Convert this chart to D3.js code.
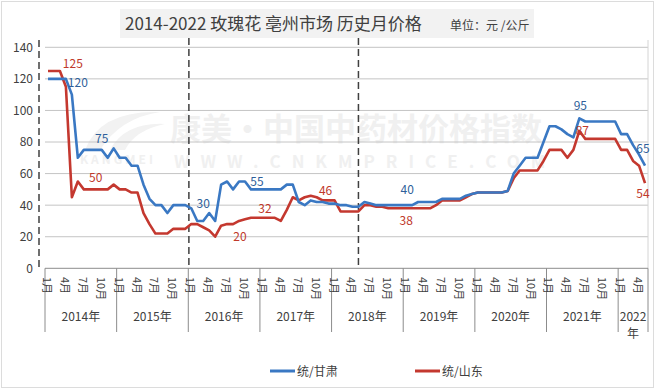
<!DOCTYPE html>
<html>
<head>
<meta charset="utf-8">
<script src="https://cdn.jsdelivr.net/npm/d3@7"></script>
<style>
  body { margin: 0; background: #fff; }
  text { font-family: "Noto Sans CJK SC", "Noto Sans", sans-serif; }
</style>
</head>
<body>
<svg width="656" height="391"></svg>
<script>
// years on the x axis (2022 only has Jan-May)
var years = ['2014', '2015', '2016', '2017', '2018', '2019', '2020', '2021', '2022'];
var yTicks = [0, 20, 40, 60, 80, 100, 120, 140];

// monthly price, 统/甘肃
var gansu = [
    120, 120, 120, 120, 110, 70, 75, 75, 75, 75, 70, 76,
    70, 70, 65, 65, 53, 44, 40, 40, 35, 40, 40, 40,
    38, 30, 30, 35, 30, 53, 55, 50, 55, 55, 50, 50,
    50, 50, 50, 50, 53, 53, 42, 40, 43, 42, 42, 41,
    41, 40, 40, 39, 39, 42, 41, 40, 40, 40, 40, 40,
    40, 40, 42, 42, 42, 42, 44, 44, 44, 44, 46, 47,
    48, 48, 48, 48, 48, 49, 60, 65, 70, 70, 70, 80,
    90, 90, 88, 85, 83, 95, 93, 93, 93, 93, 93, 93,
    85, 85, 78, 72, 65
];
// monthly price, 统/山东
var shandong = [
    125, 125, 125, 115, 45, 55, 50, 50, 50, 50, 50, 53,
    50, 50, 48, 48, 35, 28, 22, 22, 22, 25, 25, 25,
    28, 28, 26, 24, 20, 27, 28, 28, 30, 31, 32, 32,
    32, 32, 32, 30, 37, 45, 43, 45, 46, 45, 43, 43,
    43, 36, 36, 36, 36, 40, 40, 39, 39, 38, 38, 38,
    38, 38, 38, 38, 38, 40, 43, 43, 43, 43, 45, 47,
    48, 48, 48, 48, 48, 49, 57, 62, 62, 62, 62, 68,
    75, 75, 75, 70, 75, 87, 82, 82, 82, 82, 82, 82,
    75, 75, 68, 65, 54
];

// data labels (month index + value shown)
var gansuLabels = [[5, 120], [9, 75], [26, 30], [35, 55], [60, 40], [89, 95], [100, 65]];
var shandongLabels = [[4, 125], [8, 50], [36, 32], [32, 20], [46, 46], [60, 38], [89, 87], [100, 54]];
// dashed marker lines (month position)
var markers = [24.1, 52.5];

var nMonths = gansu.length;
var blue = '#3a78c3', red = '#c4382f';

var svg = d3.select('svg');

var x = d3.scaleLinear().domain([0, 101]).range([45, 648]);
var y = d3.scaleLinear().domain([0, 140]).range([268.3, 47.3]);
function xc(i) { return x(i + 0.5); }

// outer frame
svg.append('rect')
    .attr('x', 1.5).attr('y', 1.5)
    .attr('width', 652).attr('height', 386)
    .attr('fill', 'none')
    .attr('stroke', '#dcdcdc');

// title
svg.append('rect')
    .attr('x', 120).attr('y', 9)
    .attr('width', 414).attr('height', 29)
    .attr('fill', '#f2f2f2');
svg.append('text')
    .attr('x', 125).attr('y', 30)
    .attr('font-size', 17)
    .attr('fill', '#404040')
    .text('2014-2022 玫瑰花 亳州市场 历史月价格');
svg.append('text')
    .attr('x', 450).attr('y', 30)
    .attr('font-size', 12)
    .attr('fill', '#404040')
    .text('单位：元 /公斤');

// watermark (faint)
var wm = svg.append('g').attr('fill', '#f0f0f0');
wm.append('path')
    .attr('d', 'M85,150 Q100,110 160,112 Q120,118 100,150 Z M110,150 Q125,122 165,124 Q135,130 125,150 Z')
    .attr('fill', '#f2f2f2');
wm.append('text')
    .attr('x', 170).attr('y', 140)
    .attr('font-size', 31).attr('font-weight', 'bold')
    .text('康美·中国中药材价格指数');
wm.append('text')
    .attr('x', 80).attr('y', 164)
    .attr('font-size', 12).attr('font-weight', 'bold')
    .attr('letter-spacing', 3)
    .text('KANGMEI');
wm.append('text')
    .attr('x', 174).attr('y', 168)
    .attr('font-size', 17).attr('font-weight', 'bold')
    .attr('letter-spacing', 11)
    .text('WWW.CNKMPRICE.COM');

// gridlines
svg.append('g').selectAll('line')
    .data(yTicks.filter(d => d > 0))
    .enter().append('line')
    .attr('x1', x(0)).attr('x2', x(101))
    .attr('y1', d => y(d)).attr('y2', d => y(d))
    .attr('stroke', '#c4c4c4');

// y axis
var yAxis = d3.axisLeft(y).tickValues(yTicks).tickSize(0).tickPadding(6);
var yG = svg.append('g')
    .attr('transform', 'translate(39,0)')
    .call(yAxis);
yG.select('.domain').remove();
yG.selectAll('text')
    .attr('font-size', 12)
    .attr('fill', '#404040')
    .style('font-family', '"Noto Sans CJK SC", sans-serif');
svg.append('line')
    .attr('x1', 39).attr('x2', 39)
    .attr('y1', 40).attr('y2', 270)
    .attr('stroke', '#404040')
    .attr('stroke-width', 1.5)
    .attr('stroke-dasharray', '7,4');

// right edge
svg.append('line')
    .attr('x1', x(101)).attr('x2', x(101))
    .attr('y1', 40).attr('y2', y(0))
    .attr('stroke', '#d4d4d4');

// x axis line + year separators
svg.append('line')
    .attr('x1', x(0)).attr('x2', x(101))
    .attr('y1', y(0)).attr('y2', y(0))
    .attr('stroke', '#8c8c8c');
var bounds = years.map((d, k) => k * 12).concat([nMonths]);
svg.append('g').selectAll('line')
    .data(bounds)
    .enter().append('line')
    .attr('x1', d => x(d)).attr('x2', d => x(d))
    .attr('y1', y(0)).attr('y2', 332)
    .attr('stroke', '#8c8c8c');

// month labels (rotated)
var monthIdx = d3.range(nMonths).filter(i => i % 3 === 0);
svg.append('g').selectAll('text')
    .data(monthIdx)
    .enter().append('text')
    .attr('transform', d => `translate(${xc(d)},277) rotate(90)`)
    .attr('dominant-baseline', 'central')
    .attr('font-size', 11)
    .attr('fill', '#404040')
    .text(d => (d % 12 + 1) + '月');

// year labels
svg.append('g').selectAll('text')
    .data(years)
    .enter().append('text')
    .attr('x', (d, k) => x(k * 12 + Math.min(12, nMonths - k * 12) / 2))
    .attr('y', 321)
    .attr('text-anchor', 'middle')
    .attr('font-size', 12)
    .attr('fill', '#404040')
    .each(function(d, k) {
        var t = d3.select(this);
        if (k === years.length - 1) {
            t.append('tspan').text(d);
            t.append('tspan').attr('x', t.attr('x')).attr('dy', 17).text('年');
        } else {
            t.text(d + '年');
        }
    });

// dashed markers
svg.append('g').selectAll('line')
    .data(markers)
    .enter().append('line')
    .attr('x1', d => x(d)).attr('x2', d => x(d))
    .attr('y1', 38).attr('y2', y(0))
    .attr('stroke', '#404040')
    .attr('stroke-width', 1.5)
    .attr('stroke-dasharray', '7,4');

// lines
var line = d3.line()
    .x((d, i) => xc(i))
    .y(d => y(d));
svg.append('path')
    .datum(shandong)
    .attr('d', line)
    .attr('fill', 'none')
    .attr('stroke', red)
    .attr('stroke-width', 2.6)
    .attr('stroke-linejoin', 'round');
svg.append('path')
    .datum(gansu)
    .attr('d', line)
    .attr('fill', 'none')
    .attr('stroke', blue)
    .attr('stroke-width', 2.6)
    .attr('stroke-linejoin', 'round');

// data labels, offsets tuned to match reference placement
var gOff = { 5: [0, 4], 9: [0, -11], 26: [0, -17], 35: [0, 0], 60: [1, -15], 89: [1, -13], 100: [-2, -17] };
var sOff = { 4: [1, -7], 8: [0, -12], 36: [2, -9], 32: [1, 0], 46: [3, -5], 60: [0, 12], 89: [3, 0], 100: [-2, 11] };
function drawLabels(arr, off, color) {
    svg.append('g').selectAll('text')
        .data(arr)
        .enter().append('text')
        .attr('x', d => xc(d[0]) + off[d[0]][0])
        .attr('y', d => y(d[1]) + off[d[0]][1])
        .attr('dy', '0.35em')
        .attr('text-anchor', 'middle')
        .attr('font-size', 12)
        .attr('fill', color)
        .text(d => d[1]);
}
drawLabels(gansuLabels, gOff, '#2f5f9a');
drawLabels(shandongLabels, sOff, '#c0392b');

// legend
var legend = [['统/甘肃', blue, 270], ['统/山东', red, 415]];
var lg = svg.append('g').selectAll('g')
    .data(legend)
    .enter().append('g')
    .attr('transform', d => `translate(${d[2]},371)`);
lg.append('line')
    .attr('x1', 0).attr('x2', 25)
    .attr('stroke', d => d[1])
    .attr('stroke-width', 3);
lg.append('text')
    .attr('x', 27).attr('y', 4.5)
    .attr('font-size', 12)
    .attr('fill', '#404040')
    .text(d => d[0]);
</script>
</body>
</html>
